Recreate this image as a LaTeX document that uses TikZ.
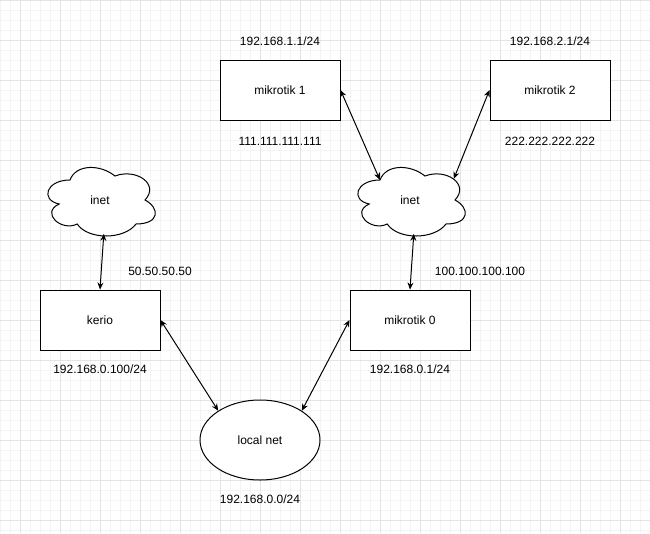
\documentclass[tikz,border=0pt]{standalone}
\usepackage{fontspec}
\setmainfont{Liberation Sans}
\usetikzlibrary{arrows.meta,shapes.geometric,calc}
\definecolor{gridminor}{HTML}{F4F4F4}
\definecolor{gridmajor}{HTML}{E4E4E4}
\tikzset{
  box/.style={draw, line width=1pt, minimum width=120pt, minimum height=60pt, fill=white, inner sep=0pt},
  lbl/.style={inner sep=0pt, anchor=center},
  link/.style={line width=1pt, {Stealth[length=7pt,width=6pt]}-{Stealth[length=7pt,width=6pt]}},
  cloudnode/.style={minimum width=120pt, minimum height=80pt, inner sep=0pt},
  cloudline/.style={line width=1pt, fill=white, draw=black},
  lanstyle/.style={draw, ellipse, line width=1pt, minimum width=120pt, minimum height=80pt, inner sep=0pt, fill=white}
}
\newcommand{\drawcloudat}[2]{%
  \begin{scope}[shift={(#1pt,-#2pt)}, x=120pt, y=-80pt]
    \path[cloudline]
      (0.25,0.25) .. controls (0.05,0.25) and (0,0.5) .. (0.16,0.55)
      .. controls (0,0.66) and (0.18,0.9) .. (0.31,0.8)
      .. controls (0.4,1) and (0.7,1) .. (0.8,0.8)
      .. controls (1,0.8) and (1,0.6) .. (0.875,0.5)
      .. controls (1,0.3) and (0.8,0.1) .. (0.625,0.2)
      .. controls (0.5,0.05) and (0.3,0.05) .. (0.25,0.25) -- cycle;
  \end{scope}}
\begin{document}
\begin{tikzpicture}[x=1pt, y=-1pt, font=\fontsize{12}{14}\selectfont]
\useasboundingbox (0,0) rectangle (650,533);
\fill[white] (0,0) rectangle (650,533);
\foreach \i in {0,10,...,650} \draw[gridminor, line width=1pt] (\i,0) -- (\i,533);
\foreach \j in {0,10,...,530} \draw[gridminor, line width=1pt] (0,\j) -- (650,\j);
\foreach \i in {20,60,...,620} \draw[gridmajor, line width=1pt] (\i,0) -- (\i,533);
\foreach \j in {0,40,...,520} \draw[gridmajor, line width=1pt] (0,\j) -- (650,\j);

% cloud outlines (behind their nodes)
\drawcloudat{40}{160}
\drawcloudat{350}{160}

% nodes
\node[box] (m1) at (280,90) {mikrotik 1};
\node[box] (m2) at (550,90) {mikrotik 2};
\node[box] (kerio) at (100,320) {kerio};
\node[box] (m0) at (410,320) {mikrotik 0};
\node[cloudnode] (cL) at (100,200) {inet};
\node[cloudnode] (cR) at (410,200) {inet};
\node[lanstyle] (lan) at (260,440) {local net};

% labels
\node[lbl] (l1) at (280,41) {192.168.1.1/24};
\node[lbl] (l2) at (550,41) {192.168.2.1/24};
\node[lbl] (l3) at (280,141) {111.111.111.111};
\node[lbl] (l4) at (550,141) {222.222.222.222};
\node[lbl] (l5) at (160,271) {50.50.50.50};
\node[lbl] (l6) at (480,271) {100.100.100.100};
\node[lbl] (l7) at (100,369) {192.168.0.100/24};
\node[lbl] (l8) at (410,369) {192.168.0.1/24};
\node[lbl] (l9) at (260,499) {192.168.0.0/24};

% connectors
\coordinate (cRtl) at ($(cR.north west)+(30,20)$);
\coordinate (cRtr) at ($(cR.north west)+(104,19)$);
\coordinate (cLb) at ($(cL.north west)+(64,74)$);
\coordinate (cRb) at ($(cR.north west)+(64,74)$);
\draw[link] (m1.east) -- (cRtl);
\draw[link] (m2.west) -- (cRtr);
\draw[link] (cLb) -- (kerio.north);
\draw[link] (cRb) -- (m0.north);
\draw[link] (kerio.east) -- (lan.145);
\draw[link] (m0.west) -- (lan.35);
\end{tikzpicture}
\end{document}
